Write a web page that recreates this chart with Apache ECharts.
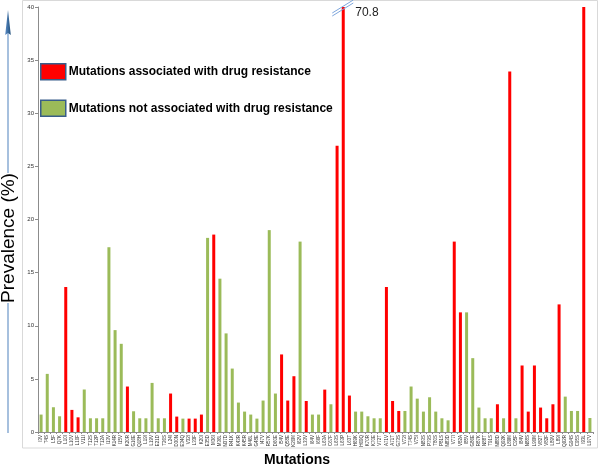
<!DOCTYPE html>
<html><head><meta charset="utf-8">
<script src="https://cdn.jsdelivr.net/npm/echarts@6/dist/echarts.min.js"></script>
<style>html,body{margin:0;padding:0;background:#fff}#c{width:600px;height:467px}</style>
</head><body><div id="c"></div>
<script>
const categories = ["I3V","T4S","L5F","Q7K","L10I","L10V","L10F","V11I","T12S","T12P","T12A","I13V","K14R","I15V","K20R","G16E","Q18H","L19I","L19V","E21D","T26S","L24I","D30N","E34Q","V32I","L33F","K20I","E35D","M36I","M36L","N37D","R41K","K43R","K45R","M46L","G48E","I47V","R57K","D60E","I54V","Q58E","K20M","I62V","L33V","I64V","I66F","L63A","C67F","L63S","L63P","L63T","H69K","H69Q","K70R","K70E","V72T","A71V","A71T","G73S","V72I","T74S","V75I","N83S","P79S","T80S","P81S","N83D","V77I","V82A","I85V","G86E","R87K","N88T","T91S","N88D","Q92K","L89M","C95F","I84V","N88S","L90M","V82T","V82F","L89V","L89I","Q92R","G94S","C95S","I93L","L97V"];
const prevalence = [1.64,5.47,2.33,1.48,13.65,2.08,1.38,4.0,1.29,1.29,1.29,17.39,9.59,8.3,4.28,1.95,1.29,1.29,4.62,1.29,1.29,3.62,1.45,1.26,1.26,1.26,1.64,18.27,18.58,14.43,9.28,5.97,2.77,1.92,1.64,1.26,2.96,19.0,3.62,7.3,2.96,5.25,17.92,2.92,1.64,1.64,3.99,2.61,26.95,70.8,3.43,1.92,1.92,1.48,1.29,1.29,13.65,2.92,1.98,1.98,4.28,3.14,1.92,3.27,1.92,1.29,1.1,17.92,11.26,11.26,6.95,2.3,1.29,1.29,2.61,1.29,33.93,1.29,6.26,1.92,6.26,2.3,1.29,2.61,12.01,3.33,1.98,1.98,40.0,1.32];
const resistance = [0,0,0,0,1,1,1,0,0,0,0,0,0,0,1,0,0,0,0,0,0,1,1,0,1,1,1,0,1,0,0,0,0,0,0,0,0,0,0,1,1,1,0,1,0,0,1,0,1,1,1,0,0,0,0,0,1,1,1,0,0,0,0,0,0,0,0,1,1,0,0,0,0,0,1,0,1,0,1,1,1,1,1,1,1,0,0,0,1,0];
const yTicks = {min:0, max:40, interval:5};
const seriesNames = ["Mutations associated with drug resistance","Mutations not associated with drug resistance"];
const brokenLabel = "70.8";

const redData = prevalence.map((v,i)=> resistance[i] ? v : '-');
const greenData = prevalence.map((v,i)=> resistance[i] ? '-' : v);

const chart = echarts.init(document.getElementById('c'), null, {renderer:'canvas'});
const option = {
  animation:false,
  backgroundColor:'#fff',
  grid:{left:38, right:7, top:7, bottom:35},
  legend:{
    orient:'vertical', left:40, top:63, padding:0, itemWidth:25, itemHeight:16, itemGap:19,
    icon:'rect',
    itemStyle:{borderColor:'#385d8a', borderWidth:1.5},
    textStyle:{fontFamily:'Liberation Sans, Arial', fontWeight:'bold', fontSize:12, color:'#000', padding:[0,0,0,-2]},
    data: seriesNames
  },
  xAxis:{
    type:'category', data:categories,
    axisLine:{lineStyle:{color:'#8c8c8c', width:1}},
    axisTick:{show:true, length:2, lineStyle:{color:'#8c8c8c'}},
    axisLabel:{interval:0, rotate:90, fontSize:4.5, color:'#333', margin:3, fontFamily:'Liberation Sans, Arial'}
  },
  yAxis:{
    type:'value', min:yTicks.min, max:yTicks.max, interval:yTicks.interval,
    splitLine:{show:false},
    axisLine:{show:true, lineStyle:{color:'#8c8c8c'}},
    axisTick:{show:true, length:3, lineStyle:{color:'#8c8c8c'}},
    axisLabel:{fontSize:6, color:'#333', margin:4, fontFamily:'Liberation Sans, Arial'}
  },
  series:[
    {name:seriesNames[0], type:'bar', data:redData, barWidth:3, barGap:'-100%', itemStyle:{color:'#ff0000'}},
    {name:seriesNames[1], type:'bar', data:greenData, barWidth:3, barGap:'-100%', itemStyle:{color:'#9bbb59'}}
  ],
  graphic:[]
};
chart.setOption(option);

const bi = prevalence.indexOf(70.8);
const p = chart.convertToPixel({xAxisIndex:0, yAxisIndex:0}, [bi, yTicks.max]);
const bx = p[0], by = p[1];
chart.setOption({graphic:[
  {type:'rect', shape:{x:22.5, y:0.5, width:575, height:447.5}, style:{fill:null, stroke:'#d9d9d9', lineWidth:1}, z:0, silent:true},
  {type:'line', shape:{x1:bx-11, y1:by+9, x2:bx+10, y2:by-4}, style:{stroke:'#7ea6dc', lineWidth:1}, z:10},
  {type:'line', shape:{x1:bx-11, y1:by+6, x2:bx+10, y2:by-7}, style:{stroke:'#7ea6dc', lineWidth:1}, z:10},
  {type:'text', x:bx+12, y:by+6, style:{text:brokenLabel, font:'12px Liberation Sans, Arial', fill:'#222', verticalAlign:'middle'}, z:10},
  {type:'line', shape:{x1:8, y1:433, x2:8, y2:32}, style:{stroke:'#4f81bd', lineWidth:1}, z:1},
  {type:'polygon', shape:{points:[[8,10],[10.8,35],[8,33],[5.2,35]]}, style:{fill:new echarts.graphic.LinearGradient(0,0,1,0,[{offset:0,color:'#5b8cc7'},{offset:1,color:'#1f4e79'}])}, z:2},
  {type:'text', x:9, y:238, rotation:Math.PI/2, style:{text:'Prevalence (%)', font:'19px Liberation Sans, Arial', fill:'#000', align:'center', verticalAlign:'middle', backgroundColor:'#fff'}, z:3},
  {type:'text', x:297, y:460, style:{text:'Mutations', font:'bold 14px Liberation Sans, Arial', fill:'#000', align:'center', verticalAlign:'middle'}, z:3}
]});
</script>
</body></html>
